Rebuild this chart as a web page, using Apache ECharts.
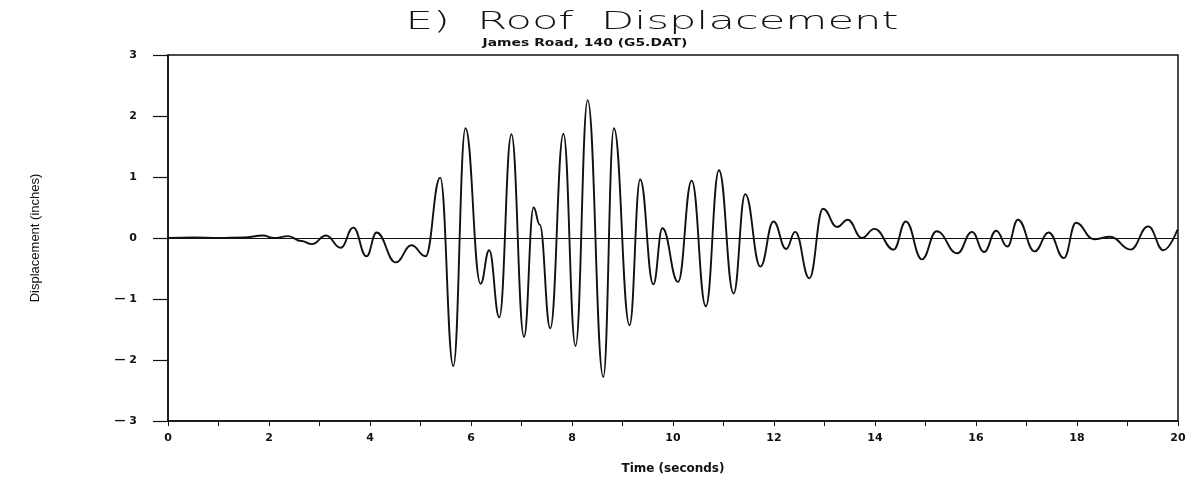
<!DOCTYPE html>
<html>
<head>
<meta charset="utf-8">
<script src="https://cdn.jsdelivr.net/npm/echarts@6/dist/echarts.min.js"></script>
<style>
html,body{margin:0;padding:0;background:#fff;}
#chart{width:1194px;height:482px;}
</style>
</head>
<body>
<div id="chart"></div>
<script>
// Time (seconds) of read points (peaks, troughs, flat samples)
var times = [0.00,0.50,1.00,1.50,1.88,2.10,2.38,2.64,2.85,3.13,3.42,3.67,3.93,4.13,4.51,4.82,5.10,
  5.39,5.65,5.89,6.19,6.36,6.56,6.80,7.05,7.24,7.36,7.57,7.83,8.07,8.31,8.62,8.83,9.14,9.35,9.61,9.79,
  10.10,10.37,10.65,10.91,11.20,11.43,11.73,11.99,12.24,12.42,12.70,12.97,13.25,13.46,13.74,13.99,
  14.37,14.61,14.93,15.22,15.63,15.92,16.16,16.40,16.62,16.83,17.16,17.44,17.74,17.98,18.33,18.66,
  19.06,19.41,19.71,19.99];
// Roof displacement (inches)
var displacement = [0.00,0.01,0.00,0.01,0.04,0.00,0.03,-0.05,-0.10,0.04,-0.16,0.17,-0.30,0.09,-0.40,-0.12,-0.30,
  0.99,-2.10,1.80,-0.75,-0.20,-1.30,1.70,-1.62,0.50,0.22,-1.48,1.71,-1.77,2.26,-2.28,1.80,-1.43,0.96,-0.76,0.16,
  -0.72,0.94,-1.12,1.11,-0.91,0.72,-0.47,0.27,-0.18,0.10,-0.66,0.48,0.18,0.30,0.00,0.15,
  -0.19,0.27,-0.35,0.11,-0.25,0.10,-0.23,0.12,-0.14,0.30,-0.22,0.09,-0.33,0.25,-0.02,0.02,
  -0.19,0.19,-0.20,0.14];
var xTicks = [0,2,4,6,8,10,12,14,16,18,20];
var yTicks = [-3,-2,-1,0,1,2,3];
var titleText = 'E)  Roof  Displacement';
var subtitleText = 'James Road, 140 (G5.DAT)';
var xName = 'Time (seconds)';
var yName = 'Displacement (inches)';

var seriesData = times.map(function(t, i){ return [t, displacement[i]]; });

var chart = echarts.init(document.getElementById('chart'));
chart.setOption({
  animation: false,
  backgroundColor: '#fff',
  graphic: [
    {type:'text', x:652, y:22, scaleX:1.73, scaleY:1,
     style:{text:titleText, fontFamily:'DejaVu Sans', fontWeight:200, fontSize:25, fill:'#111',
            textAlign:'center', textVerticalAlign:'middle'}},
    {type:'text', x:585, y:43, scaleX:1.39, scaleY:1,
     style:{text:subtitleText, fontFamily:'DejaVu Sans', fontWeight:'bold', fontSize:10, fill:'#111',
            textAlign:'center', textVerticalAlign:'middle'}}
  ],
  grid: {left:168, right:16, top:55, bottom:61, show:true, borderColor:'#111', borderWidth:1.5, backgroundColor:'transparent'},
  xAxis: {
    type:'value', min:xTicks[0], max:xTicks[xTicks.length-1], interval:2,
    name:xName, nameLocation:'middle', nameGap:42,
    nameTextStyle:{fontFamily:'DejaVu Sans', fontWeight:'bold', fontSize:12, color:'#111'},
    axisLine:{show:true, onZero:false, lineStyle:{color:'#111', width:1.5}},
    axisTick:{show:true, inside:false, length:5, lineStyle:{color:'#111', width:1}},
    minorTick:{show:true, splitNumber:2, length:5, lineStyle:{color:'#111', width:1}},
    splitLine:{show:false},
    axisLabel:{margin:12, fontFamily:'DejaVu Sans', fontWeight:'bold', fontSize:11, color:'#111'}
  },
  yAxis: {
    type:'value', min:yTicks[0], max:yTicks[yTicks.length-1], interval:1,
    name:yName, nameLocation:'middle', nameGap:126, nameRotate:90,
    nameTextStyle:{fontFamily:'Liberation Sans', fontSize:13, color:'#111'},
    axisLine:{show:true, onZero:false, lineStyle:{color:'#111', width:1.5}},
    axisTick:{show:true, inside:false, length:15, lineStyle:{color:'#111', width:1.2}},
    splitLine:{show:false},
    axisLabel:{margin:31, fontFamily:'DejaVu Sans', fontWeight:'bold', fontSize:11, color:'#111',
      formatter:function(v){ return v < 0 ? '\u2014 ' + Math.abs(v) : String(v); }}
  },
  series: [{
    type:'line', data:seriesData, showSymbol:false, smooth:0.45, smoothMonotone:'x',
    lineStyle:{color:'#111', width:1.9}, silent:true,
    markLine:{silent:true, symbol:['none','none'], label:{show:false},
      lineStyle:{color:'#111', width:1.2, type:'solid'}, data:[{yAxis:0}]}
  }]
});
</script>
</body>
</html>
